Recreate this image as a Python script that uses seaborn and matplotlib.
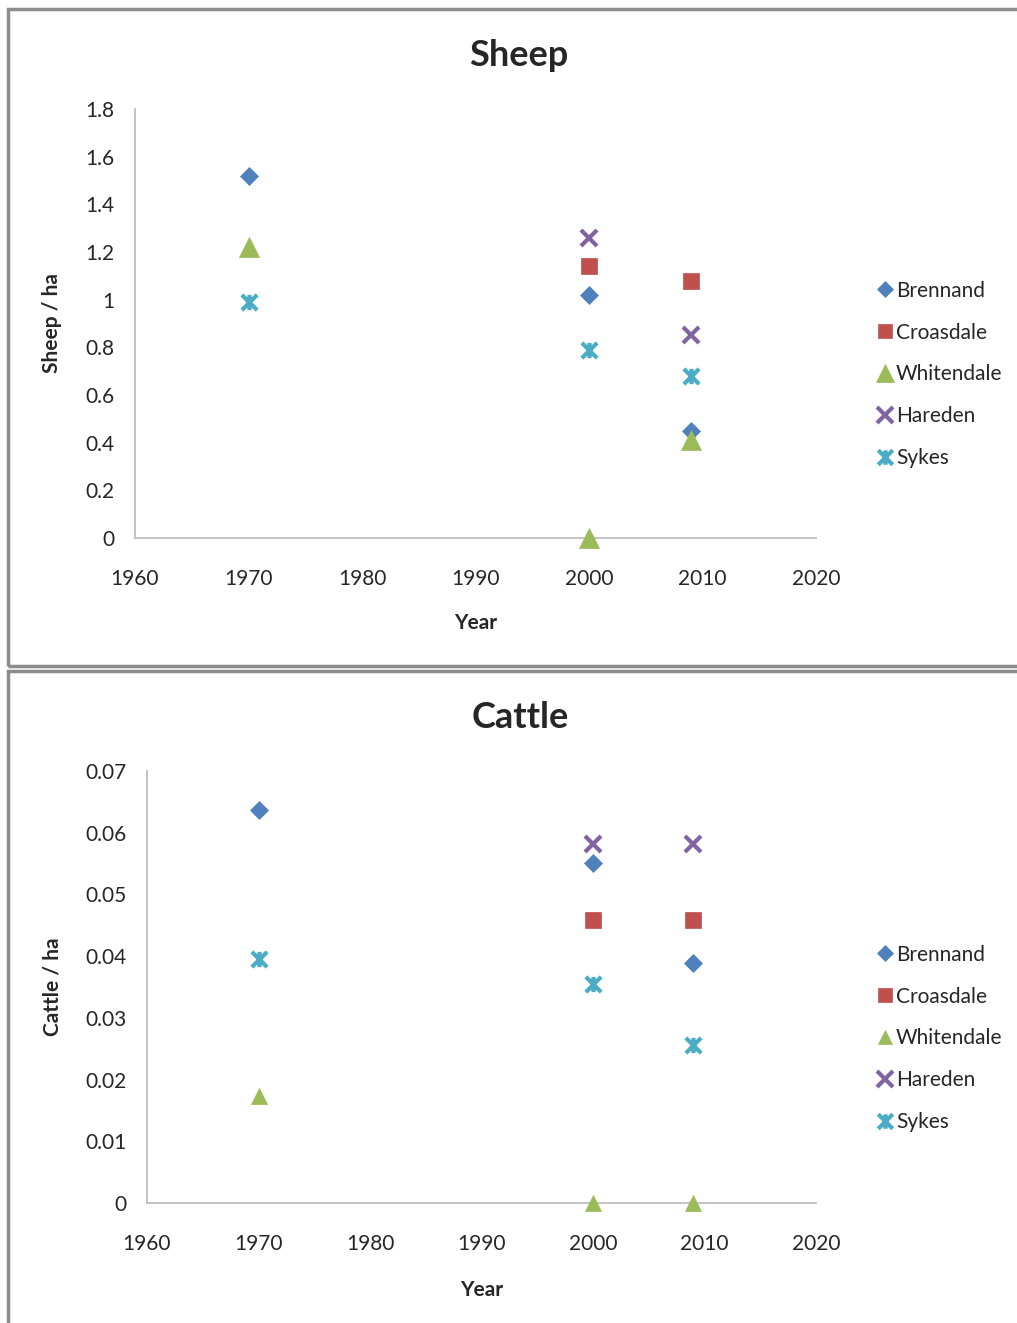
import numpy as np
import seaborn as sns
from matplotlib import pyplot as plt
from matplotlib.path import Path
from matplotlib.patches import Rectangle

sns.set_style("white")
plt.rcParams['font.family'] = ['Lato', 'DejaVu Sans']

# data
farms = ["Brennand", "Croasdale", "Whitendale", "Hareden", "Sykes"]
years_1970 = [1970]
years_2000 = [2000, 2009]

sheep_1970 = {"Brennand": 1.52, "Whitendale": 1.22, "Sykes": 0.99}
sheep_later = {"Brennand": [1.02, 0.45],
               "Croasdale": [1.14, 1.08],
               "Whitendale": [0.0, 0.41],
               "Hareden": [1.26, 0.85],
               "Sykes": [0.79, 0.68]}

cattle_1970 = {"Brennand": 0.0637, "Whitendale": 0.0173, "Sykes": 0.0395}
cattle_later = {"Brennand": [0.0551, 0.0389],
                "Croasdale": [0.0459, 0.0459],
                "Whitendale": [0.0, 0.0],
                "Hareden": [0.0582, 0.0582],
                "Sykes": [0.0355, 0.0256]}

colors = {"Brennand": "#4F81BD", "Croasdale": "#C0504D", "Whitendale": "#9BBB59",
          "Hareden": "#8064A2", "Sykes": "#4BACC6"}

# excel style star: an x with a vertical bar
star = Path([(-1, -1), (1, 1), (-1, 1), (1, -1), (0, -1), (0, 1)],
            [Path.MOVETO, Path.LINETO, Path.MOVETO, Path.LINETO, Path.MOVETO, Path.LINETO])
markers = {"Brennand": "D", "Croasdale": "s", "Whitendale": "^", "Hareden": "x", "Sykes": star}


def draw(ax, first, later, ymax, ystep, big):
    sizes = {"Brennand": 9, "Croasdale": 11,
             "Whitendale": 14 if big else 11, "Hareden": 12, "Sykes": 11}
    for f in farms:
        xs, ys = [], []
        if f in first:
            xs += years_1970
            ys += [first[f]]
        xs += years_2000
        ys += later[f]
        filled = f in ("Brennand", "Croasdale", "Whitendale")
        sns.lineplot(x=xs, y=ys, ax=ax, marker=markers[f], linestyle="none",
                     color=colors[f], markersize=sizes[f],
                     markeredgecolor=colors[f],
                     markeredgewidth=0.5 if filled else 3,
                     label=f, clip_on=False, zorder=3)
    ax.set_xlim(1960, 2020)
    ax.set_ylim(0, ymax)
    ax.set_xticks(np.arange(1960, 2021, 10))
    ax.set_yticks(np.arange(0, ymax + ystep / 2, ystep))
    for s in ["top", "right"]:
        ax.spines[s].set_visible(False)
    for s in ["left", "bottom"]:
        ax.spines[s].set_color("#BFBFBF")
        ax.spines[s].set_linewidth(1.3)
    ax.tick_params(length=0, labelsize=15, colors="#262626")
    ax.tick_params(axis="y", pad=15)
    ax.tick_params(axis="x", pad=22)


fig = plt.figure(figsize=(10.17, 13.23), dpi=100)

ax1 = fig.add_axes([135 / 1017, 1 - 538 / 1323, 681 / 1017, 429 / 1323])
ax2 = fig.add_axes([147 / 1017, 1 - 1203 / 1323, 669 / 1017, 432 / 1323])

draw(ax1, sheep_1970, sheep_later, 1.8, 0.2, True)
draw(ax2, cattle_1970, cattle_later, 0.07, 0.01, False)

ax1.set_yticklabels(["0", "0.2", "0.4", "0.6", "0.8", "1", "1.2", "1.4", "1.6", "1.8"])
ax2.set_yticklabels(["0", "0.01", "0.02", "0.03", "0.04", "0.05", "0.06", "0.07"])

ax1.set_ylabel("Sheep / ha", fontsize=15, fontweight="bold")
ax1.set_xlabel("Year", fontsize=15, fontweight="bold")
ax1.yaxis.set_label_coords(-0.107, 0.5)
ax1.xaxis.set_label_coords(0.5, -0.175)

ax2.set_ylabel("Cattle / ha", fontsize=15, fontweight="bold")
ax2.set_xlabel("Year", fontsize=15, fontweight="bold")
ax2.yaxis.set_label_coords(-0.127, 0.5)
ax2.xaxis.set_label_coords(0.5, -0.178)

fig.text(519 / 1017, 1 - 56 / 1323, "Sheep", fontsize=26, fontweight="bold",
         ha="center", va="center")
fig.text(520 / 1017, 1 - 717 / 1323, "Cattle", fontsize=26, fontweight="bold",
         ha="center", va="center")

for ax, yc in [(ax1, 374.5), (ax2, 1038.5)]:
    ax.legend(loc="center left", bbox_to_anchor=(867 / 1017, 1 - yc / 1323),
              bbox_transform=fig.transFigure, frameon=False, fontsize=15,
              labelspacing=1.05, handlelength=0.7, handletextpad=0.2,
              markerscale=0.95, borderpad=0)

# chart area borders
fig.patches.append(Rectangle((8 / 1017, 1 - 666 / 1323), 1.2, 657 / 1323,
                             transform=fig.transFigure, fill=False,
                             edgecolor="#8C8C8C", linewidth=2.5))
fig.patches.append(Rectangle((8 / 1017, -0.1), 1.2, 0.1 + 1 - 671 / 1323,
                             transform=fig.transFigure, fill=False,
                             edgecolor="#8C8C8C", linewidth=2.5))

plt.savefig("out.png", dpi=100)
